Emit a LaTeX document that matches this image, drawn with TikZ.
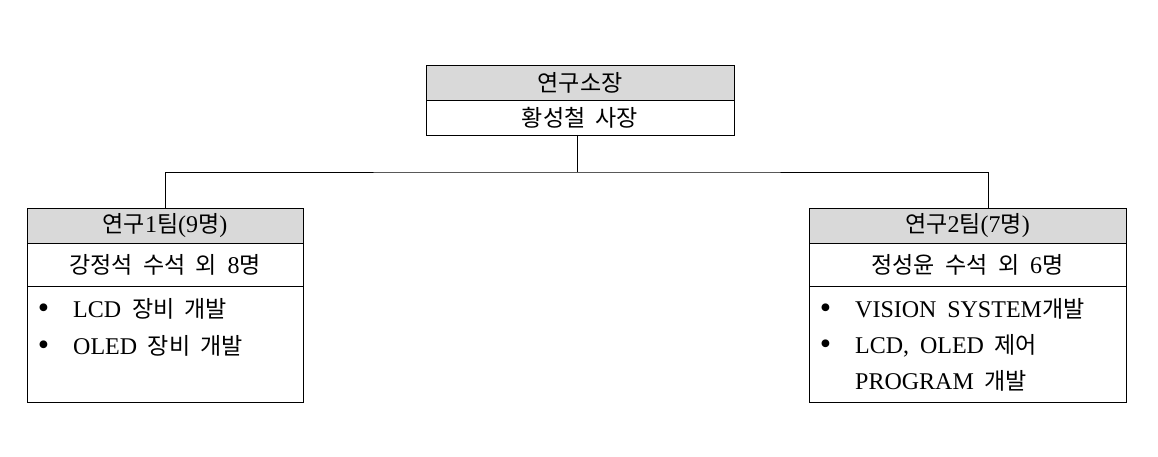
\documentclass[tikz,border=0pt]{standalone}
\usepackage{fontspec}
\setmainfont[WordSpace=1.8]{Liberation Serif}
\newfontfamily\kr[WordSpace=2, Scale=0.96]{Noto Sans CJK KR}
\usepackage{tikz}
\usetikzlibrary{positioning}
\definecolor{HeadGray}{RGB}{217, 217, 217}
\newcommand{\bul}{\llap{\raisebox{-1pt}{\scalebox{1.35}{\textbullet}}\hspace{24pt}}}

\begin{document}
\begin{tikzpicture}[x=1pt, y=-1pt,
        cell/.style={rectangle, draw=black, line width=0.8pt, inner sep=0pt, outer sep=0pt, font=\fontsize{24}{36}\selectfont},
        headbox/.style={cell, fill=HeadGray, minimum height=35pt},
        namebox/.style={cell, minimum height=43pt},
        listbox/.style={cell, minimum height=116pt},
        item/.style={anchor=base west, inner sep=0pt, font=\fontsize{24}{36}\selectfont},
        link/.style={draw=black, line width=0.8pt}
    ]
        \useasboundingbox (0,0) rectangle (1158,457);

        % Director
        \node[headbox, minimum width=308pt] (dirhead) at (580,82.5) {\kr 연구소장};
        \node[cell, minimum width=308pt, minimum height=35pt, below=0pt of dirhead] (dirname) {\kr 황성철 사장};

        % Team 1
        \node[headbox, minimum width=276pt] (team1head) at (165,225.5) {{\kr 연구}1{\kr 팀}(9{\kr 명})};
        \node[namebox, minimum width=276pt, below=0pt of team1head] (team1name) {{\kr 강정석 수석 외} 8{\kr 명}};
        \node[listbox, minimum width=276pt, below=0pt of team1name] (team1list) {};
        \node[item] (t1a) at (73,317) {\bul LCD {\kr 장비 개발}};
        \node[item] (t1b) at (73,354) {\bul OLED {\kr 장비 개발}};

        % Team 2
        \node[headbox, minimum width=317pt] (team2head) at (967.5,225.5) {{\kr 연구}2{\kr 팀}(7{\kr 명})};
        \node[namebox, minimum width=317pt, below=0pt of team2head] (team2name) {{\kr 정성윤 수석 외} 6{\kr 명}};
        \node[listbox, minimum width=317pt, below=0pt of team2name] (team2list) {};
        \node[item] (t2a) at (855,317) {\bul VISION SYSTEM{\kr 개발}};
        \node[item] (t2b) at (855,353) {\bul LCD, OLED {\kr 제어}};
        \node[item] (t2c) at (855,389) {PROGRAM {\kr 개발}};

        % Connectors
        \coordinate (hub) at (577,172);
        \coordinate (drop2) at (988,208);
        \draw[link] (hub |- dirname.south) -- (hub);
        \draw[link] (team1head.north) |- (hub) -| (drop2);
    \end{tikzpicture}
\end{document}
